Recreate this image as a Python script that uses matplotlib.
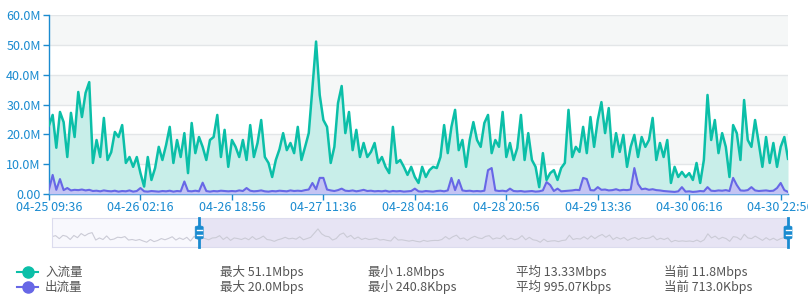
import numpy as np
import pandas as pd
import matplotlib
matplotlib.use('Agg')
import matplotlib.pyplot as plt
from matplotlib.patches import FancyBboxPatch
from matplotlib.lines import Line2D

plt.rcParams['font.family'] = ['Noto Sans CJK SC', 'DejaVu Sans']

# 数据：每 40 分钟一个点，单位 Mbps
start_time = '2024-04-25 09:36'
step_minutes = 40
tick_step_minutes = 1000

inbound = [
    23.0, 26.5, 15.5, 27.5, 24.1, 12.4, 27.2, 19.1, 34.2, 25.8,
    33.9, 37.5, 10.4, 18.1, 12.4, 25.5, 11.4, 14.0, 20.8, 19.1,
    23.1, 10.4, 12.4, 9.1, 12.4, 7.0, 2.5, 12.4, 4.7, 8.7,
    15.8, 11.4, 16.4, 22.5, 10.4, 18.1, 12.4, 20.4, 7.0, 23.8,
    13.7, 19.1, 15.8, 11.4, 18.1, 19.1, 26.5, 12.4, 21.5, 9.1,
    18.1, 15.8, 12.4, 18.1, 11.4, 23.1, 12.4, 17.1, 24.8, 12.4,
    10.4, 5.7, 11.4, 15.0, 20.4, 14.7, 17.1, 13.7, 22.5, 11.4,
    15.8, 20.4, 35.5, 51.1, 33.2, 24.8, 22.5, 10.4, 15.8, 30.5,
    36.2, 20.4, 27.5, 14.7, 21.5, 12.4, 17.1, 12.4, 14.1, 17.1,
    10.4, 12.4, 9.1, 7.0, 22.5, 10.4, 11.4, 9.1, 6.4, 9.1,
    5.7, 3.7, 9.1, 5.7, 8.0, 9.1, 8.7, 12.4, 23.1, 13.7,
    22.5, 28.2, 14.7, 18.1, 9.1, 18.1, 24.1, 18.1, 15.8, 23.8,
    26.5, 13.7, 18.1, 15.8, 27.5, 12.4, 17.1, 11.4, 15.4, 26.5,
    11.4, 20.4, 11.4, 9.1, 2.3, 13.7, 4.7, 7.0, 8.0, 4.7,
    8.7, 10.4, 28.2, 12.4, 15.8, 14.1, 22.5, 13.7, 25.8, 15.8,
    24.8, 30.8, 20.4, 28.8, 12.4, 20.4, 14.1, 19.8, 9.1, 15.8,
    19.8, 12.4, 19.1, 15.8, 18.1, 25.5, 11.4, 17.1, 12.4, 18.1,
    3.7, 9.1, 5.7, 7.4, 5.7, 7.0, 4.7, 10.4, 3.7, 11.4,
    33.2, 18.1, 24.8, 13.7, 20.4, 15.8, 5.7, 23.1, 20.4, 11.4,
    31.5, 18.1, 15.8, 24.8, 17.1, 9.1, 19.1, 10.4, 17.1, 9.1,
    15.8, 19.1, 11.8,
]

outbound = [
    1.5, 6.4, 1.4, 5.0, 1.3, 2.0, 1.2, 1.4, 1.3, 1.5,
    1.2, 1.4, 1.0, 1.1, 0.9, 1.2, 1.0, 0.9, 1.1, 0.8,
    1.0, 0.9, 1.2, 0.8, 1.0, 2.0, 0.9, 0.8, 1.0, 0.9,
    0.8, 1.0, 0.9, 1.1, 0.8, 1.0, 0.9, 4.2, 1.0, 0.9,
    1.1, 0.9, 3.8, 1.0, 0.8, 1.0, 0.9, 1.1, 1.0, 0.9,
    1.0, 0.9, 1.2, 1.0, 2.0, 1.1, 0.9, 1.0, 1.2, 0.9,
    0.8, 1.0, 0.9, 1.1, 1.0, 0.9, 1.2, 1.0, 1.1, 1.0,
    1.3, 1.5, 3.7, 1.6, 5.4, 5.4, 1.5, 1.2, 1.0, 1.3,
    1.8, 1.1, 1.0, 1.2, 0.9, 1.1, 1.4, 1.0, 1.1, 0.9,
    1.0, 0.9, 1.1, 0.8, 1.0, 0.9, 1.0, 0.8, 0.9, 1.0,
    1.8, 0.9, 0.8, 1.0, 0.9, 0.8, 1.0, 1.1, 0.9, 1.2,
    5.4, 1.3, 4.7, 1.2, 1.0, 1.1, 0.9, 1.0, 0.9, 1.1,
    8.0, 8.7, 1.2, 1.0, 1.1, 0.9, 1.8, 1.0, 0.9, 1.0,
    0.8, 0.9, 1.0, 0.8, 0.9, 1.2, 4.0, 3.0, 1.0, 1.8,
    0.9, 1.0, 1.1, 1.2, 1.4, 1.3, 5.4, 5.0, 1.3, 1.2,
    2.3, 1.4, 1.5, 1.2, 1.3, 1.6, 1.2, 1.4, 1.3, 1.5,
    8.7, 3.4, 1.6, 1.8, 1.4, 1.6, 1.3, 1.2, 1.0, 0.9,
    0.8, 0.7, 0.9, 2.3, 0.8, 0.9, 0.7, 0.8, 1.0, 0.9,
    2.3, 1.1, 1.0, 1.2, 1.1, 1.3, 1.0, 5.4, 3.0, 1.2,
    1.1, 1.3, 2.3, 1.2, 1.0, 1.1, 1.2, 1.0, 1.1, 2.0,
    3.7, 1.3, 0.7,
]

y_ticks = [0, 10, 20, 30, 40, 50, 60]
y_tick_labels = ['0.00', '10.0M', '20.0M', '30.0M', '40.0M', '50.0M', '60.0M']

series_names = ['入流量', '出流量']
stats_in = ['最大 51.1Mbps', '最小 1.8Mbps', '平均 13.33Mbps', '当前 11.8Mbps']
stats_out = ['最大 20.0Mbps', '最小 240.8Kbps', '平均 995.07Kbps', '当前 713.0Kbps']

zoom_start_pct, zoom_end_pct = 20, 100

# 颜色
c_in = '#0bbfa8'
c_in_fill = '#c8eee9'
c_out = '#6767e6'
c_out_fill = '#c4c4f3'
c_axis = '#1a8bd0'
c_text = '#555555'

times = pd.date_range(start_time, periods=len(inbound), freq=f'{step_minutes}min')

W, H = 808, 305
fig = plt.figure(figsize=(W / 100, H / 100), dpi=100)

# 主图
ax = fig.add_axes([49 / W, 1 - 194 / H, (788 - 49) / W, (194 - 15) / H])
for i in range(len(y_ticks) - 1):
    if i % 2 == 1:
        ax.axhspan(y_ticks[i], y_ticks[i + 1], color='#f5f7f7', lw=0, zorder=0)
ax.set_yticks(y_ticks)
ax.set_yticklabels(y_tick_labels)
ax.yaxis.grid(True, color='#e3e6e8', lw=1, zorder=1)
ax.set_axisbelow(True)

ax.fill_between(times, inbound, color=c_in_fill, lw=0, zorder=2)
ax.plot(times, inbound, color=c_in, lw=1.8, zorder=3)
ax.fill_between(times, outbound, color=c_out_fill, lw=0, zorder=4)
ax.plot(times, outbound, color=c_out, lw=1.5, zorder=5)

ax.set_xlim(times[0], times[-1])
ax.set_ylim(0, 60)

tick_times = pd.date_range(times[0], times[-1], freq=f'{tick_step_minutes}min')
ax.set_xticks(tick_times)
ax.set_xticklabels([t.strftime('%m-%d %H:%M') for t in tick_times])

for side in ['top', 'right']:
    ax.spines[side].set_visible(False)
for side in ['left', 'bottom']:
    ax.spines[side].set_color(c_axis)
    ax.spines[side].set_linewidth(1)
ax.tick_params(axis='both', colors=c_axis, labelcolor=c_axis, labelsize=9,
               length=4, width=1)
ax.tick_params(axis='y', pad=2)
ax.tick_params(axis='x', pad=1)
for lbl in ax.get_xticklabels():
    lbl.set_clip_on(False)

# 缩放滑块
sl = fig.add_axes([52 / W, 1 - 247 / H, (788 - 52) / W, 29 / H])
sl.set_xlim(times[0], times[-1])
sl.set_ylim(-15, 91)
sl.set_facecolor('#f8f8fd')
for s in sl.spines.values():
    s.set_color('#dcdcee')
    s.set_linewidth(0.8)
sl.set_xticks([])
sl.set_yticks([])
span = times[-1] - times[0]
z0 = times[0] + span * zoom_start_pct / 100
z1 = times[0] + span * zoom_end_pct / 100
sl.axvspan(z0, z1, color='#e7e4f4', lw=0, zorder=0)
sl.plot(times, inbound, color='#cbcbd6', lw=0.8, zorder=1)

fig.canvas.draw()
for zt in [z0, z1]:
    px, _ = sl.transData.transform((matplotlib.dates.date2num(zt), 0))
    fig.add_artist(Line2D([px / W, px / W], [1 - 218 / H, 1 - 247 / H],
                          transform=fig.transFigure, color=c_axis, lw=2))
    fig.add_artist(FancyBboxPatch(((px - 4) / W, 1 - 239 / H), 8 / W, 13 / H,
                                  boxstyle='round,pad=0,rounding_size=0.004',
                                  transform=fig.transFigure,
                                  facecolor=c_axis, edgecolor=c_axis, lw=0.5))
    for yy in [230, 235]:
        fig.add_artist(Line2D([(px - 2.5) / W, (px + 2.5) / W], [1 - yy / H, 1 - yy / H],
                              transform=fig.transFigure, color='white', lw=1))

# 图例与统计
for row, (name, color, stats) in enumerate(zip(series_names, [c_in, c_out], [stats_in, stats_out])):
    yy = 1 - (272 + 15 * row) / H
    fig.add_artist(Line2D([17 / W, 38 / W], [yy, yy], transform=fig.transFigure,
                          color=color, lw=1.5))
    fig.add_artist(Line2D([28 / W], [yy], transform=fig.transFigure, marker='o',
                          ms=8, color=color, lw=0))
    fig.text(45 / W, yy, name, fontsize=9, color=c_text, va='center')
    for j, s in enumerate(stats):
        fig.text((220 + 148 * j) / W, yy, s, fontsize=9, color=c_text, va='center')

fig.savefig('out.png', dpi=100)
